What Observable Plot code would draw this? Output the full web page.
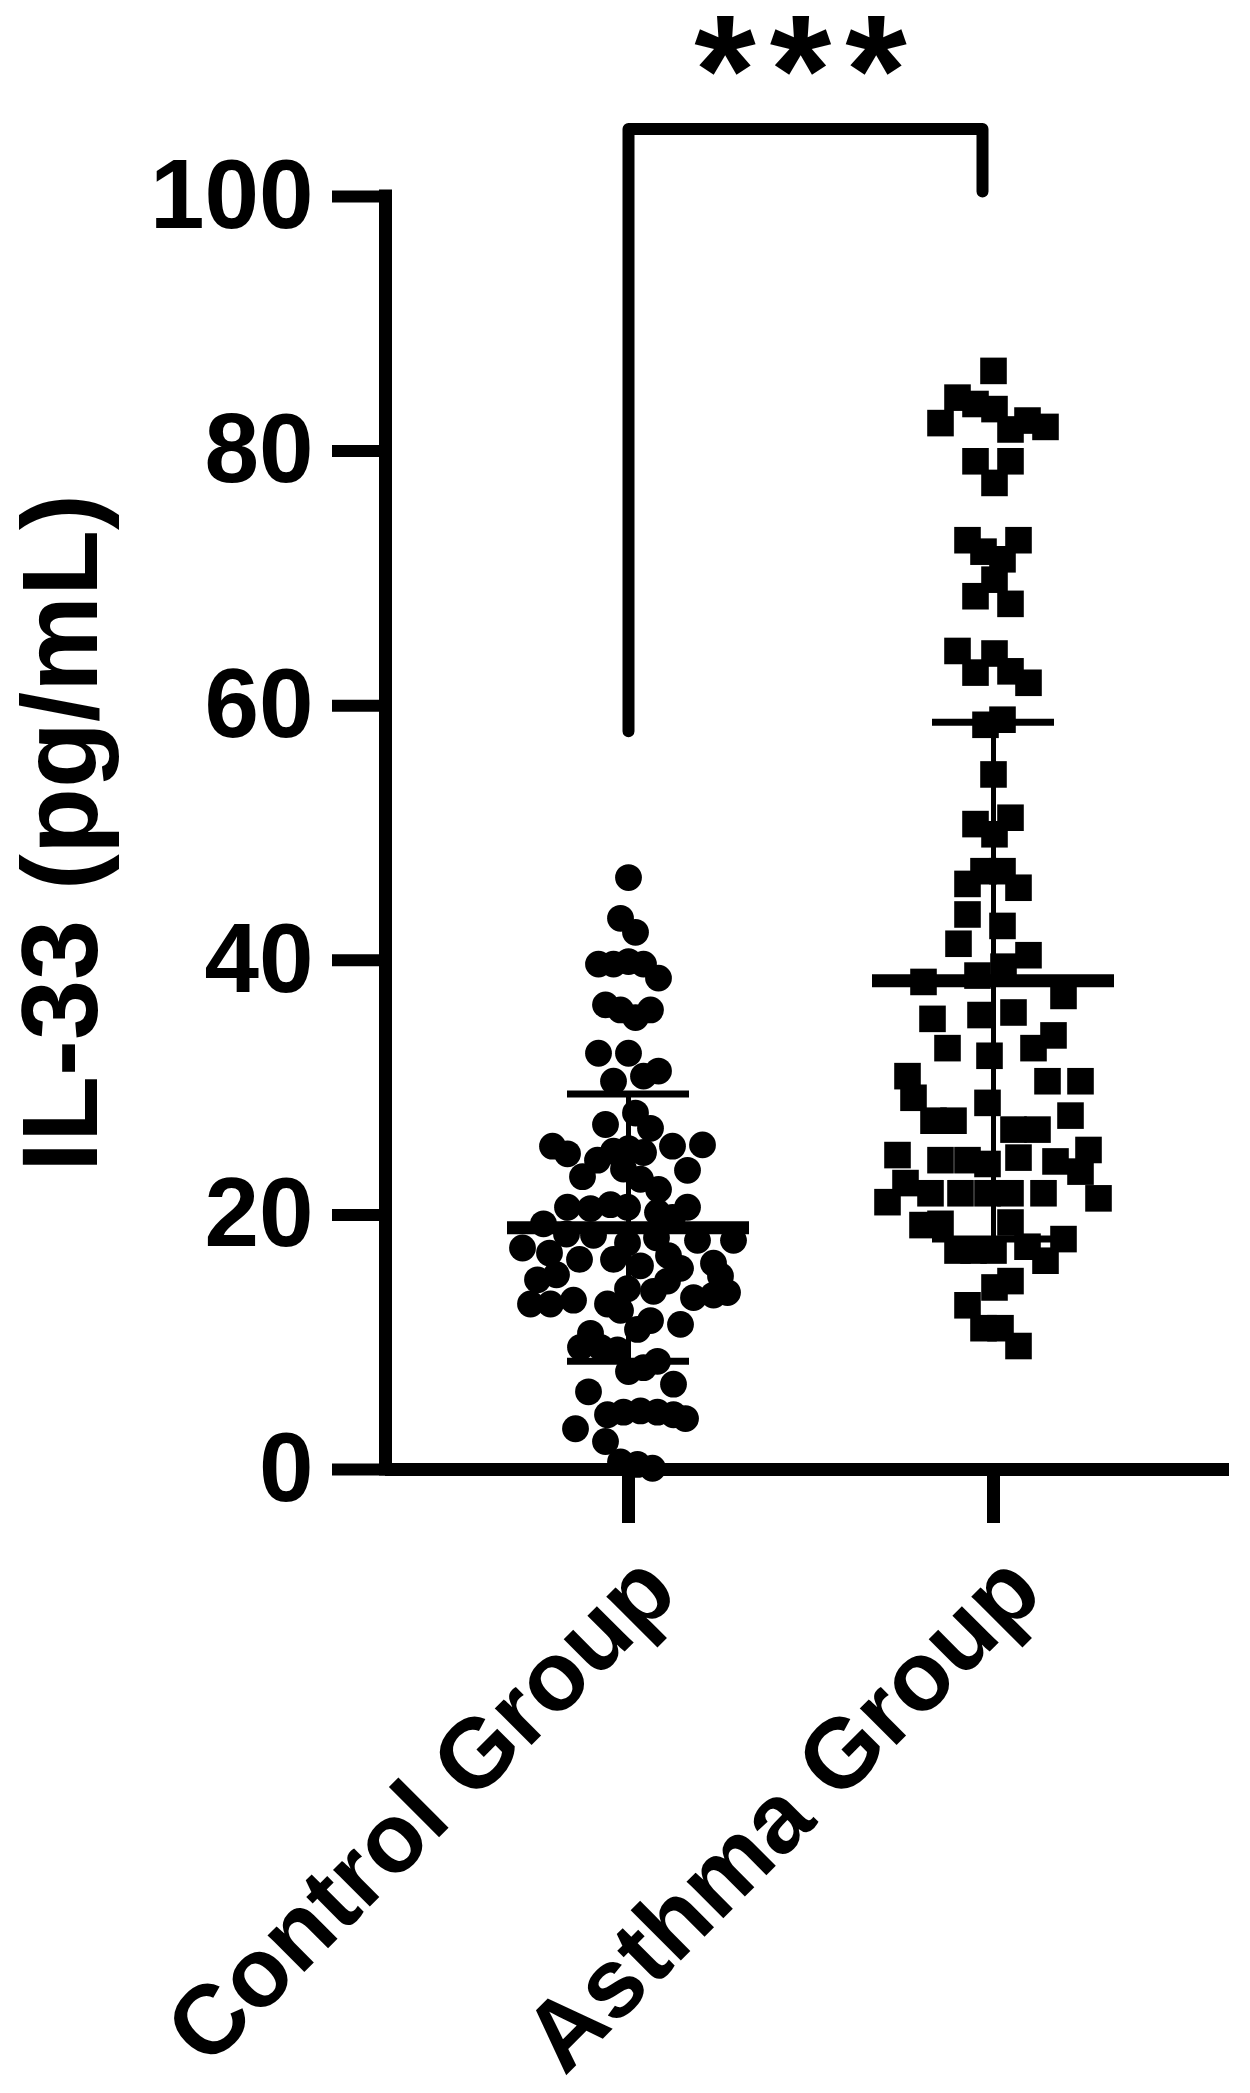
<!DOCTYPE html>
<html>
<head>
<meta charset="utf-8">
<script src="https://cdn.jsdelivr.net/npm/d3@7"></script>
<script src="https://cdn.jsdelivr.net/npm/@observablehq/plot@0.6"></script>
<style>
  body { margin: 0; background: #fff; }
  svg { display: block; }
</style>
</head>
<body>
<div id="chart"></div>
<script>
// ---------- data ----------
const groups = ["Control Group", "Asthma Group"];
const yTicks = [0, 20, 40, 60, 80, 100];
const yTitle = "IL-33 (pg/mL)";

// IL-33 values (pg/mL) and swarm offsets (horizontal spread, px at the reference scale)
const controlValues = [46.5, 43.3, 42.2, 39.7, 39.7, 39.9, 39.7, 38.6, 36.5, 36.1, 35.5, 36.1, 32.7, 32.7,
  30.5, 30.9, 31.3, 28.0, 27.1, 26.8, 25.4, 24.8, 25.4, 25.5, 23.5, 24.3, 25.0, 25.2, 24.9, 23.0, 22.8,
  23.6, 22.0, 20.6, 20.5, 20.8, 20.6, 20.2, 20.6, 19.8, 19.3, 17.4, 17.0, 16.5, 16.5, 17.8, 18.2, 18.0,
  18.0, 16.2, 15.2, 14.9, 15.3, 13.0, 13.0, 13.3, 13.0, 14.2, 12.5, 14.0, 14.8, 15.8, 13.5, 13.7, 13.9,
  11.4, 11.0, 11.7, 10.7, 9.6, 9.6, 9.4, 7.7, 8.0, 8.5, 6.1, 6.7, 4.3, 4.5, 4.6, 4.5, 4.3, 4.0, 3.2,
  2.2, 0.6, 0.4, 0.1, 18.4, 16.0, 16.8, 18.5];
const controlJitter = [0, -8, 7, -30, -15, 0, 15, 30, -23, -8, 7, 22, -30, 0,
  -15, 15, 30, 7, -23, 22, -76, -61, 44, 74, 59, -31, -15, 0, 15, -46, 12,
  -5, 30, -61, -38, -18, -1, 29, 59, 44, -85, -106, -79, -49, -15, -1, 28, 69,
  105, 85, 92, -91, -72, -98, -78, -55, -21, -1, -8, 25, 39, 52, 65, 85, 99,
  52, 9, 22, -38, -48, -28, -11, 0, 15, 29, -40, 45, -21, -5, 12, 29, 45, 57, -53,
  -23, -8, 9, 24, -35, 12, 40, -62];

const asthmaValues = [86.3, 84.2, 83.7, 83.3, 82.2, 81.7, 82.4, 81.9, 79.2, 79.2, 77.5,
  73.0, 73.0, 72.1, 71.5, 69.9, 68.6, 68.0, 64.3, 64.1, 62.6, 62.7, 61.8, 58.5, 58.9, 54.6,
  50.7, 51.2, 49.9, 47.0, 47.0, 46.0, 45.7, 43.6, 42.7, 41.3, 40.4,
  38.3, 38.8, 39.5, 37.2, 35.4, 35.7, 35.9, 34.1, 33.1, 33.1, 32.5, 30.9, 30.5, 30.5,
  29.2, 28.8, 27.8, 27.4, 27.4, 26.7, 26.7, 24.7, 24.3, 24.3, 24.0, 24.5, 24.2, 25.1,
  22.5, 23.4, 21.0, 21.7, 21.7, 21.7, 21.7, 21.7, 21.3, 19.2, 19.3, 19.4,
  17.2, 17.2, 17.2, 17.5, 18.1, 16.4, 14.8, 14.3, 12.9, 11.1, 11.1, 9.7];
const asthmaJitter = [0, -36, -18, 1, -53, 17, 34, 52, -18, 17, 1,
  -26, 25, -10, 9, 1, -18, 17, -36, 1, -18, 17, 35, -8, 9, 0,
  -18, 17, 1, -10, 9, -26, 25, -26, 9, -35, 35,
  -70, -16, 10, 70, -61, -13, 20, 60, -46, 40, -4, -86, 54, 87,
  -80, -6, 77, -60, -40, 20, 44, -96, -53, -26, -6, 25, 62, 95,
  -88, 87, -106, -63, -33, -6, 17, 50, 105, -71, -53, 17,
  -36, -20, 0, 34, 70, 52, 17, 1, -26, -10, 7, 25];

// mean ± SD
const groupMeans = [19.0, 38.4];
const groupSDs = [10.5, 20.3];

// significance bracket (values on the IL-33 axis)
const significance = "***";
const bracketLow = 58.0;    // left leg starts here
const bracketTop = 105.3;   // horizontal bar
const bracketRight = 100.4; // right leg ends here

// ---------- layout / style ----------
const W = 1250, H = 2093;
const mLeft = 385, mRight = 21, mTop = 196, mBottom = 624;
const step = 365;                       // px between the two group centres
const xDomain = [1 - 243 / step, 2 + 236 / step];
const font = "'Liberation Sans', Arial, Helvetica, sans-serif";

const control = controlValues.map((v, i) => ({x: 1 + controlJitter[i] / step, y: v}));
const asthma = asthmaValues.map((v, i) => ({x: 2 + asthmaJitter[i] / step, y: v}));
const stats = groupMeans.map((m, i) => ({g: i + 1, mean: m, lo: m - groupSDs[i], hi: m + groupSDs[i]}));
const caps = stats.flatMap(s => [{g: s.g, y: s.lo}, {g: s.g, y: s.hi}]);
const bracket = [
  {x: 1, y: bracketLow},
  {x: 1, y: bracketTop},
  {x: 2 - 11 / step, y: bracketTop},
  {x: 2 - 11 / step, y: bracketRight}
];

const chart = Plot.plot({
  width: W,
  height: H,
  marginLeft: mLeft,
  marginRight: mRight,
  marginTop: mTop,
  marginBottom: mBottom,
  style: {fontFamily: font, color: "black", background: "white", overflow: "visible"},
  x: {type: "linear", domain: xDomain},
  y: {type: "linear", domain: [0, 100]},
  marks: [
    Plot.axisY({ticks: yTicks, tickSize: 53, tickPadding: 19, fontSize: 98, fontWeight: "bold",
      strokeWidth: 12, label: null, tickFormat: d => String(d)}),
    // x tick marks
    Plot.axisX({ticks: [1, 2], tickFormat: () => "", tickSize: 54, strokeWidth: 13, label: null}),
    // x tick labels (rotated)
    Plot.axisX({ticks: [1, 2], tickFormat: d => groups[d - 1], tickSize: 0, tickPadding: 104, dx: 30,
      tickRotate: -45, fontSize: 98, fontWeight: "bold", label: null}),
    Plot.ruleX([xDomain[0]], {strokeWidth: 13, strokeLinecap: "square"}),
    Plot.ruleY([0], {strokeWidth: 13}),
    Plot.text([yTitle], {frameAnchor: "left", textAnchor: "middle", rotate: -90, dx: -323,
      fontSize: 108, fontWeight: "bold"}),
    Plot.dot(control, {x: "x", y: "y", r: 13.4, fill: "black", stroke: "none"}),
    Plot.dot(asthma, {x: "x", y: "y", r: 15, symbol: "square", fill: "black", stroke: "none"}),
    Plot.ruleX(stats, {x: "g", y1: "lo", y2: "hi", strokeWidth: 5}),
    Plot.ruleY(caps, {y: "y", x1: d => d.g - 61 / step, x2: d => d.g + 61 / step, strokeWidth: 7}),
    Plot.ruleY(stats, {y: "mean", x1: d => d.g - 121 / step, x2: d => d.g + 121 / step, strokeWidth: 13}),
    Plot.line(bracket, {x: "x", y: "y", strokeWidth: 12, strokeLinejoin: "round", curve: "linear"}),
    Plot.text([significance], {x: () => 1 + 179 / step, y: () => 109.6, fontSize: 158, fontWeight: "bold"})
  ]
});

// widen the gap between the asterisks
d3.select(chart).selectAll("text")
  .filter(function () { return this.textContent === significance; })
  .attr("letter-spacing", 14);

document.getElementById("chart").appendChild(chart);
</script>
</body>
</html>
